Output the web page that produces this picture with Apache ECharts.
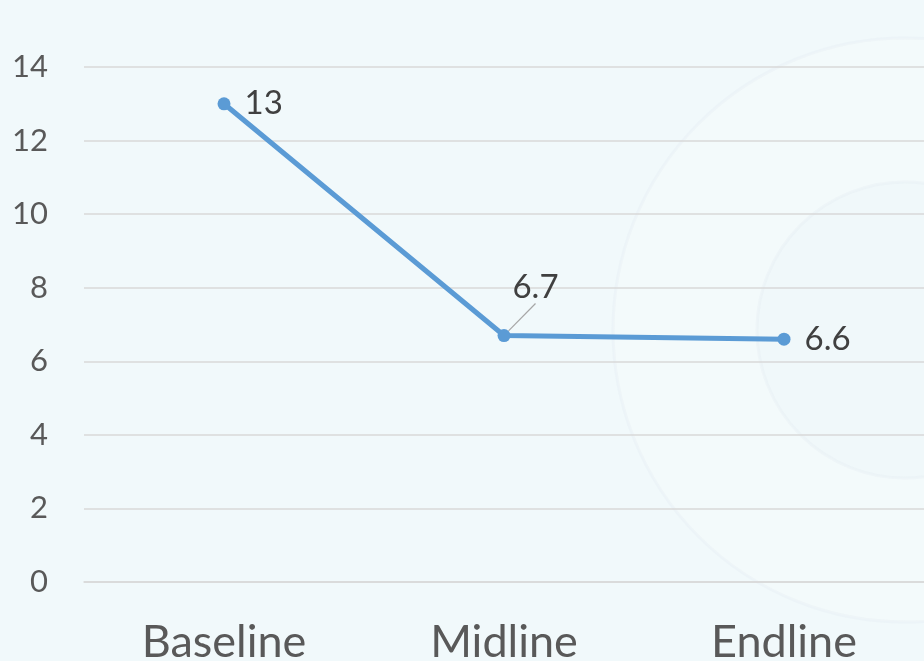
<!DOCTYPE html>
<html>
<head>
<meta charset="utf-8">
<script src="https://cdn.jsdelivr.net/npm/echarts@6/dist/echarts.min.js"></script>
<style>
  html, body { margin: 0; padding: 0; background: #f1f9fb; }
  #chart { width: 924px; height: 661px; }
</style>
</head>
<body>
<div id="chart"></div>
<script>
// Survey rounds and their measured values
const categories = ['Baseline', 'Midline', 'Endline'];
const values = [13, 6.7, 6.6];
const yTicks = { min: 0, max: 14, interval: 2 };

const chart = echarts.init(document.getElementById('chart'), null, { renderer: 'canvas' });

const fontStack = 'Lato, "Open Sans", "Noto Sans", sans-serif';

const seriesData = values.map((v, i) => {
  const item = { value: v };
  if (i === 1) {
    // middle point carries its label up and to the right, with a leader line
    item.label = {
      position: [38, -42],
      align: 'center',
      verticalAlign: 'middle'
    };
    item.labelLine = { show: true, lineStyle: { color: '#a6a6a6', width: 1.2 } };
  }
  return item;
});

chart.setOption({
  backgroundColor: '#f1f9fb',
  animation: false,
  graphic: [
    {
      type: 'circle', z: -10, silent: true,
      shape: { cx: 905, cy: 330, r: 292 },
      style: { fill: 'rgba(255,255,255,0.18)', stroke: 'rgba(222,233,238,0.25)', lineWidth: 3 }
    },
    {
      type: 'circle', z: -10, silent: true,
      shape: { cx: 905, cy: 330, r: 148 },
      style: { fill: 'rgba(232,244,248,0.25)', stroke: 'rgba(222,233,238,0.25)', lineWidth: 3 }
    }
  ],
  grid: { left: 84, right: 0, top: 67, bottom: 79, containLabel: false, outerBoundsMode: 'none' },
  xAxis: {
    type: 'category',
    data: categories,
    boundaryGap: true,
    axisLine: { show: true, lineStyle: { color: '#d9d9d9', width: 1.5 } },
    axisTick: { show: false },
    axisLabel: {
      color: '#595959',
      fontFamily: fontStack,
      fontSize: 45,
      margin: 38
    },
    splitLine: { show: false }
  },
  yAxis: {
    type: 'value',
    min: yTicks.min,
    max: yTicks.max,
    interval: yTicks.interval,
    axisLine: { show: false },
    axisTick: { show: false },
    axisLabel: {
      color: '#595959',
      fontFamily: fontStack,
      fontSize: 31,
      margin: 36
    },
    splitLine: { show: true, lineStyle: { color: '#d9d9d9', width: 1.5 } }
  },
  series: [{
    type: 'line',
    data: seriesData,
    symbol: 'circle',
    symbolSize: 13,
    itemStyle: { color: '#5b9bd5' },
    lineStyle: { color: '#5b9bd5', width: 5 },
    label: {
      show: true,
      position: 'right',
      distance: 14,
      color: '#404040',
      fontFamily: fontStack,
      fontSize: 33
    }
  }]
});
</script>
</body>
</html>
